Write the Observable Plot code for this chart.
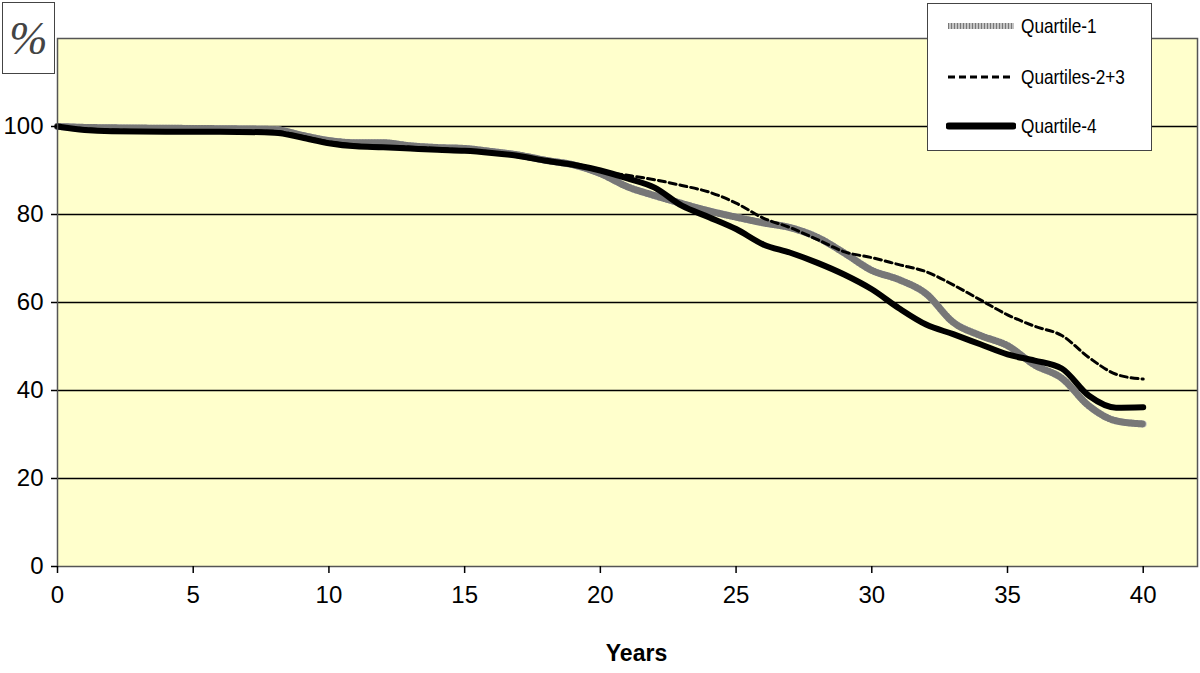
<!DOCTYPE html>
<html>
<head>
<meta charset="utf-8">
<script src="https://cdn.jsdelivr.net/npm/d3@7"></script>
<script src="https://cdn.jsdelivr.net/npm/@observablehq/plot@0.6"></script>
<style>
  body { margin: 0; background: #fff; }
  #wrap { position: relative; width: 1200px; height: 673px; }
  #pct { position: absolute; left: 2px; top: 2px; width: 51px; height: 70px; border: 1.5px solid #444; background: #fff;
         font-family: "Liberation Serif", "DejaVu Serif", serif; font-style: italic; font-size: 46px; color: #444;
         display: flex; align-items: center; justify-content: center; box-sizing: content-box; }
  #legend { position: absolute; left: 927px; top: 3px; width: 223px; height: 146px; border: 1.5px solid #444; background: #fff;
            font-family: "Liberation Sans", Arial, sans-serif; font-size: 21px; color: #000; }
  .item { position: absolute; left: 18px; height: 24px; display: flex; align-items: center; white-space: nowrap; }
  .item svg { margin-right: 5px; }
  .item span { display: inline-block; transform: scaleX(0.82); transform-origin: left center; }
</style>
</head>
<body>
<div id="wrap">
  <div id="chart"></div>
  <div id="pct">%</div>
  <div id="legend">
    <div class="item" style="top:10px"><svg width="70" height="10"><line x1="2" x2="68" y1="5" y2="5" stroke="#c4c4c4" stroke-width="6"/><line x1="2" x2="68" y1="5" y2="5" stroke="#777" stroke-width="6" stroke-dasharray="1,2"/></svg><span>Quartile-1</span></div>
    <div class="item" style="top:61px"><svg width="70" height="10"><line x1="2" x2="68" y1="5" y2="5" stroke="#000" stroke-width="3" stroke-dasharray="7,4"/></svg><span>Quartiles-2+3</span></div>
    <div class="item" style="top:110px"><svg width="70" height="10"><line x1="3" x2="67" y1="5" y2="5" stroke="#000" stroke-width="7" stroke-linecap="round"/></svg><span>Quartile-4</span></div>
  </div>
</div>
<script>
const years = [0,1,2,4,6,8,9,10,11,12,13,14,15,16,17,18,19,20,21,22,23,24,25,26,27,28,29,30,31,32,33,34,35,36,37,38,39,40];
const quartile1 = [100,99.8,99.7,99.6,99.5,99.3,98,96.8,96.3,96.3,95.6,95.2,95,94.3,93.5,92.3,91.3,89.3,86.3,84.3,82.5,80.8,79.4,78.1,77,74.8,71.2,67.3,65.2,62,55.5,52.5,50.2,45.8,42.8,36.5,33.1,32.4];
const quartiles23 = [100,99.5,99.2,99,99,98.9,97.8,96.5,95.8,95.5,95.3,95,94.7,94.2,93.4,92.3,91.3,89.8,88.9,87.9,86.6,85.1,82.6,79.2,77,74.3,71.5,70.2,68.6,67,64,60.6,57.2,54.6,52.5,47.5,43.7,42.6];
const quartile4 = [100,99.2,98.9,98.8,98.8,98.6,97.5,96.2,95.5,95.3,95,94.7,94.5,94,93.3,92.2,91.3,90,88.2,86.1,82,79.4,76.7,73.2,71.3,69,66.3,63,58.7,55,52.8,50.5,48.2,46.8,45,38.8,36.1,36.2];
const xTicks = [0,5,10,15,20,25,30,35,40];
const yTicks = [0,20,40,60,80,100];
const gridLines = [20,40,60,80,100];

const toRows = (vals) => years.map((x, i) => ({x, y: vals[i]}));
const q1 = toRows(quartile1), q23 = toRows(quartiles23), q4 = toRows(quartile4);
const font = `"Liberation Sans", Arial, sans-serif`;

const chart = Plot.plot({
  width: 1200, height: 673,
  marginLeft: 57, marginRight: 3, marginTop: 38, marginBottom: 107,
  style: {fontFamily: font, fontSize: "24px", background: "#fff", color: "#000"},
  x: {domain: [0, 42]},
  y: {domain: [0, 120]},
  marks: [
    Plot.frame({fill: "#ffffcc", stroke: "none"}),
    Plot.ruleY(gridLines, {stroke: "#000", strokeWidth: 1.6}),
    Plot.line(q1, {x: "x", y: "y", stroke: "#c4c4c4", strokeWidth: 7, curve: "monotone-x"}),
    Plot.line(q1, {x: "x", y: "y", stroke: "#777", strokeWidth: 7, strokeDasharray: "1,2", curve: "monotone-x"}),
    Plot.line(q4, {x: "x", y: "y", stroke: "#000", strokeWidth: 6, curve: "monotone-x"}),
    Plot.line(q23, {x: "x", y: "y", stroke: "#000", strokeWidth: 3, strokeDasharray: "7,4", curve: "monotone-x"}),
    Plot.frame({stroke: "#555", strokeWidth: 1.5}),
    Plot.axisX({ticks: xTicks, tickSize: 7, tickPadding: 12, fontSize: 24, label: null, strokeWidth: 1.5}),
    Plot.axisY({ticks: yTicks, tickSize: 6, tickPadding: 8, fontSize: 24, label: null, strokeWidth: 1.5}),
    Plot.text(["Years"], {frameAnchor: "bottom", dx: 9, dy: 94, fontSize: 23, fontWeight: "bold"})
  ]
});
document.getElementById("chart").appendChild(chart);
</script>
</body>
</html>
